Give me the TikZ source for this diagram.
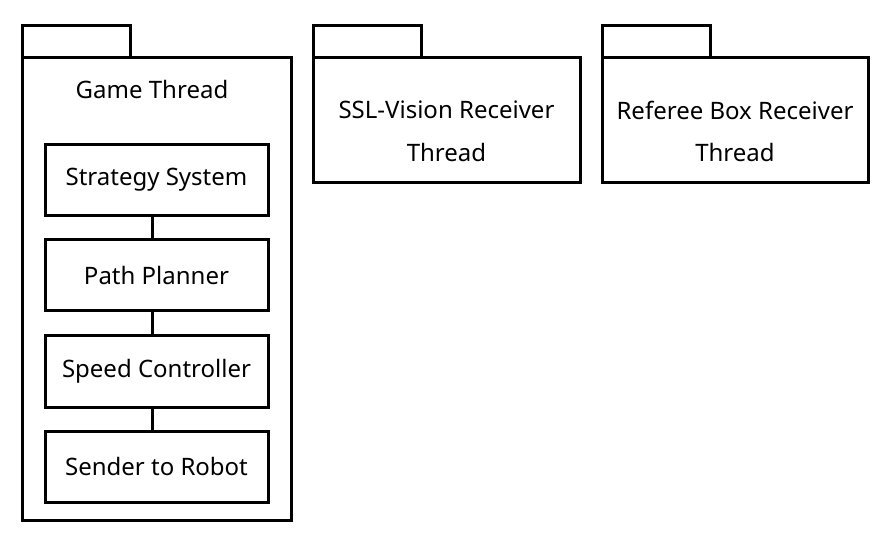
\documentclass[tikz,border=0pt]{standalone}
\usepackage{fontspec}
\setmainfont{Noto Sans}
\begin{document}
\begin{tikzpicture}[x=1pt,y=-1pt,line width=3pt,
  box/.style={draw,rectangle,minimum width=223pt,minimum height=71pt,font=\fontsize{24}{28}\selectfont},
  lbl/.style={font=\fontsize{24}{28}\selectfont,align=center}]
\useasboundingbox (0,0) rectangle (884,537);
% Game thread package
\draw (22,58) rectangle (130,26);
\draw (22,58) rectangle (291,520);
\node[lbl] (gt) at (152,90) {Game Thread};
\node[box] (s1) at (156.5,180) {Strategy System};
\node[box] (s2) at (156.5,275.5) {Path Planner};
\node[box] (s3) at (156.5,371.5) {Speed Controller};
\node[box] (s4) at (156.5,466.5) {Sender to Robot};
\draw ([xshift=-4.5pt]s1.south) -- ([xshift=-4.5pt]s2.north);
\draw ([xshift=-4.5pt]s2.south) -- ([xshift=-4.5pt]s3.north);
\draw ([xshift=-4.5pt]s3.south) -- ([xshift=-4.5pt]s4.north);
% SSL-Vision
\draw (313,58) rectangle (421,26);
\draw (313,58) rectangle (580,183);
\node[lbl] (v1) at (446.5,110) {SSL-Vision Receiver};
\node[lbl] (v2) at (446.5,153) {Thread};
% Referee
\draw (602,58) rectangle (710,26);
\draw (602,58) rectangle (868,183);
\node[lbl] (r1) at (735,110) {Referee Box Receiver};
\node[lbl] (r2) at (735,153) {Thread};
\end{tikzpicture}
\end{document}
